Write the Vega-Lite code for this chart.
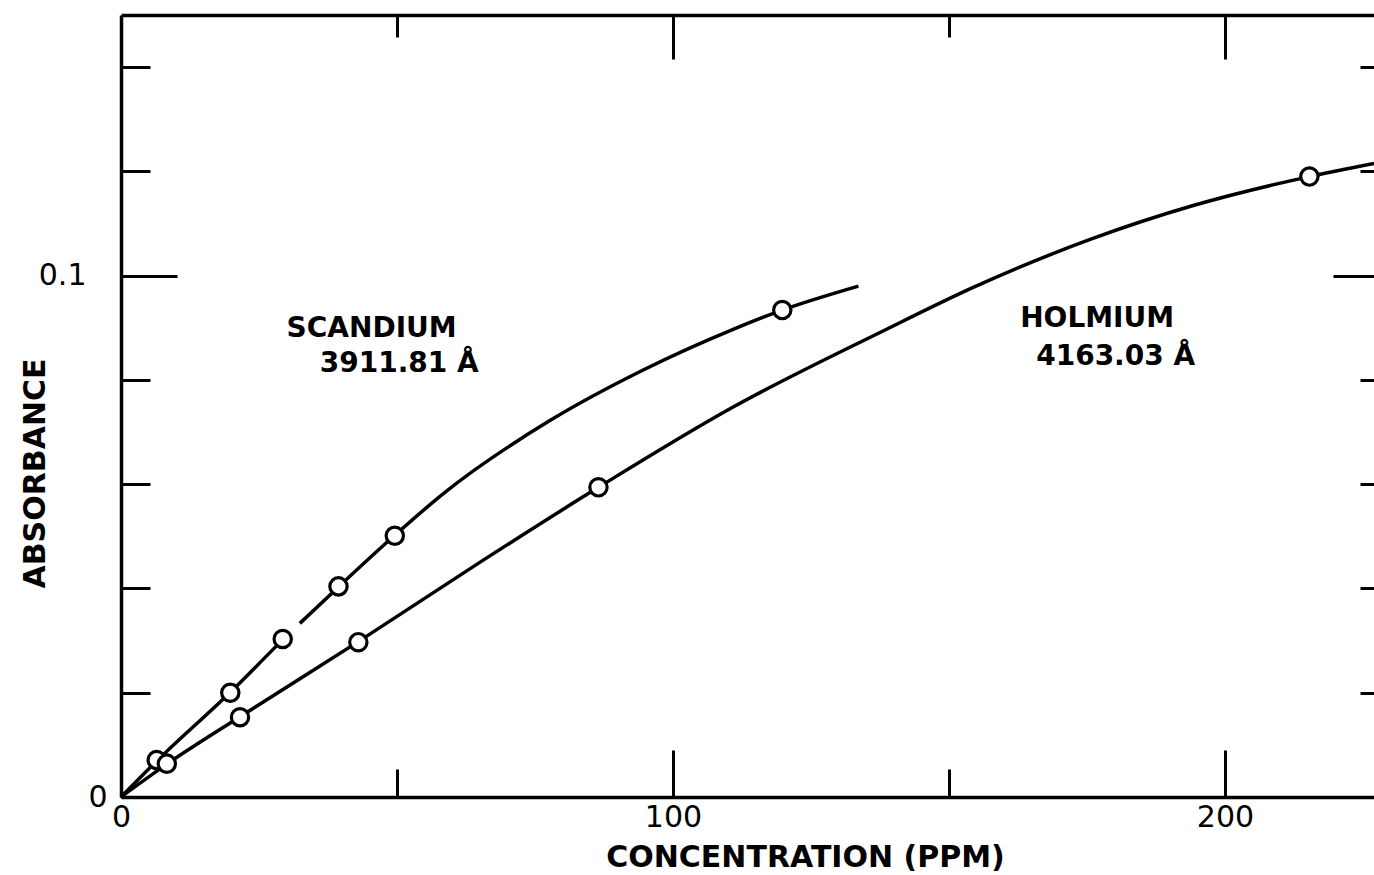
{
  "$schema": "https://vega.github.io/schema/vega-lite/v6.json",
  "autosize": {"type": "none"},
  "padding": {"left": 121, "top": 15, "right": 0, "bottom": 78},
  "width": 1253,
  "height": 782,
  "background": "white",
  "config": {"view": {"stroke": null}},
  "datasets": {
    "curves": [
      {"element": "Scandium", "seg": "Sc-a", "conc": 0, "abs": 0},
      {"element": "Scandium", "seg": "Sc-a", "conc": 6.47, "abs": 0.0069},
      {"element": "Scandium", "seg": "Sc-a", "conc": 19.8, "abs": 0.0201},
      {"element": "Scandium", "seg": "Sc-a", "conc": 29.3, "abs": 0.0302},
      {"element": "Scandium", "seg": "Sc-b", "conc": 32.4, "abs": 0.0333},
      {"element": "Scandium", "seg": "Sc-b", "conc": 39.4, "abs": 0.0403},
      {"element": "Scandium", "seg": "Sc-b", "conc": 49.6, "abs": 0.0502},
      {"element": "Scandium", "seg": "Sc-b", "conc": 58.4, "abs": 0.0582},
      {"element": "Scandium", "seg": "Sc-b", "conc": 77.7, "abs": 0.0722},
      {"element": "Scandium", "seg": "Sc-b", "conc": 94.6, "abs": 0.0819},
      {"element": "Scandium", "seg": "Sc-b", "conc": 110.9, "abs": 0.0897},
      {"element": "Scandium", "seg": "Sc-b", "conc": 119.8, "abs": 0.0934},
      {"element": "Scandium", "seg": "Sc-b", "conc": 133.6, "abs": 0.098},
      {"element": "Holmium", "seg": "Ho", "conc": 0, "abs": 0},
      {"element": "Holmium", "seg": "Ho", "conc": 8.3, "abs": 0.0063},
      {"element": "Holmium", "seg": "Ho", "conc": 21.56, "abs": 0.0154},
      {"element": "Holmium", "seg": "Ho", "conc": 43.0, "abs": 0.0298},
      {"element": "Holmium", "seg": "Ho", "conc": 65.0, "abs": 0.045},
      {"element": "Holmium", "seg": "Ho", "conc": 86.5, "abs": 0.0594},
      {"element": "Holmium", "seg": "Ho", "conc": 110.9, "abs": 0.0748},
      {"element": "Holmium", "seg": "Ho", "conc": 137.5, "abs": 0.0891},
      {"element": "Holmium", "seg": "Ho", "conc": 154.7, "abs": 0.0979},
      {"element": "Holmium", "seg": "Ho", "conc": 175.7, "abs": 0.107},
      {"element": "Holmium", "seg": "Ho", "conc": 194.4, "abs": 0.1135},
      {"element": "Holmium", "seg": "Ho", "conc": 215.3, "abs": 0.119},
      {"element": "Holmium", "seg": "Ho", "conc": 227, "abs": 0.1215}
    ],
    "points": [
      {"element": "Scandium", "conc": 6.47, "abs": 0.0071},
      {"element": "Scandium", "conc": 19.8, "abs": 0.02},
      {"element": "Scandium", "conc": 29.3, "abs": 0.0303},
      {"element": "Scandium", "conc": 39.4, "abs": 0.0404},
      {"element": "Scandium", "conc": 49.6, "abs": 0.0501},
      {"element": "Scandium", "conc": 119.8, "abs": 0.0934},
      {"element": "Holmium", "conc": 8.3, "abs": 0.0064},
      {"element": "Holmium", "conc": 21.56, "abs": 0.0153},
      {"element": "Holmium", "conc": 43.0, "abs": 0.0297},
      {"element": "Holmium", "conc": 86.5, "abs": 0.0594},
      {"element": "Holmium", "conc": 215.3, "abs": 0.119}
    ],
    "labels": [
      {"text": "SCANDIUM", "conc": 30.0, "abs": 0.0882},
      {"text": "3911.81 Å", "conc": 36.0, "abs": 0.0815},
      {"text": "HOLMIUM", "conc": 162.9, "abs": 0.0901},
      {"text": "4163.03 Å", "conc": 165.8, "abs": 0.0828}
    ]
  },
  "resolve": {"axis": {"x": "independent", "y": "independent"}},
  "layer": [
    {
      "data": {"name": "curves"},
      "mark": {"type": "line", "interpolate": "monotone", "stroke": "black", "strokeWidth": 3.5},
      "encoding": {
        "x": {
          "field": "conc", "type": "quantitative",
          "scale": {"domain": [0, 227], "nice": false, "zero": false},
          "axis": {
            "orient": "bottom",
            "values": [0, 50, 100, 150, 200],
            "labelExpr": "datum.value % 100 === 0 ? datum.label : ''",
            "tickSize": {"condition": {"test": "datum.value % 100 === 0", "value": -47}, "value": -28},
            "labelPadding": 52,
            "labelFlush": false,
            "labelOverlap": false,
            "tickWidth": 3, "tickColor": "black",
            "domainColor": "black", "domainWidth": 3.5,
            "labelFont": "DejaVu Sans", "labelFontSize": 30, "labelColor": "black",
            "grid": false,
            "title": "CONCENTRATION (PPM)",
            "titleFont": "DejaVu Sans", "titleFontSize": 30, "titleFontWeight": "bold", "titleColor": "black",
            "titleX": 684, "titleY": 69, "titleAlign": "center", "titleBaseline": "alphabetic"
          }
        },
        "y": {
          "field": "abs", "type": "quantitative",
          "scale": {"domain": [0, 0.15], "nice": false, "zero": false},
          "axis": {
            "orient": "left",
            "values": [0, 0.02, 0.04, 0.06, 0.08, 0.1, 0.12, 0.14],
            "labelExpr": "datum.value === 0 ? '0' : (abs(datum.value - 0.1) < 1e-6 ? '0.1' : '')",
            "tickSize": {"condition": {"test": "abs(datum.value - 0.1) < 1e-6", "value": -56}, "value": -29},
            "labelPadding": {"condition": {"test": "abs(datum.value - 0.1) < 1e-6", "value": 91}, "value": 43},
            "labelOverlap": false,
            "labelFlush": false,
            "tickWidth": 3, "tickColor": "black",
            "domainColor": "black", "domainWidth": 3.5,
            "labelFont": "DejaVu Sans", "labelFontSize": 30, "labelColor": "black",
            "grid": false,
            "title": "ABSORBANCE",
            "titleFont": "DejaVu Sans", "titleFontSize": 30, "titleFontWeight": "bold", "titleColor": "black",
            "titleX": -86, "titleY": 458, "titleAngle": 270, "titleAlign": "center", "titleBaseline": "middle"
          }
        },
        "detail": {"field": "seg"}
      }
    },
    {
      "data": {"name": "points"},
      "mark": {"type": "point", "shape": "circle", "filled": true, "fill": "white", "stroke": "black", "strokeWidth": 3.2, "size": 300, "opacity": 1},
      "encoding": {
        "x": {
          "field": "conc", "type": "quantitative",
          "axis": {
            "orient": "top",
            "values": [50, 100, 150, 200],
            "labels": false,
            "tickSize": {"condition": {"test": "datum.value % 100 === 0", "value": -44}, "value": -22},
            "tickWidth": 3, "tickColor": "black",
            "domainColor": "black", "domainWidth": 3.5,
            "grid": false, "title": null
          }
        },
        "y": {
          "field": "abs", "type": "quantitative",
          "axis": {
            "orient": "right",
            "values": [0.02, 0.04, 0.06, 0.08, 0.1, 0.12, 0.14],
            "labels": false,
            "domain": false,
            "tickSize": {"condition": {"test": "abs(datum.value - 0.1) < 1e-6", "value": -41}, "value": -14},
            "tickWidth": 3, "tickColor": "black",
            "grid": false, "title": null
          }
        }
      }
    },
    {
      "data": {"name": "labels"},
      "mark": {"type": "text", "align": "left", "baseline": "alphabetic", "font": "DejaVu Sans", "fontWeight": "bold", "fontSize": 28, "color": "black"},
      "encoding": {
        "x": {"field": "conc", "type": "quantitative", "axis": null},
        "y": {"field": "abs", "type": "quantitative", "axis": null},
        "text": {"field": "text"}
      }
    }
  ]
}
